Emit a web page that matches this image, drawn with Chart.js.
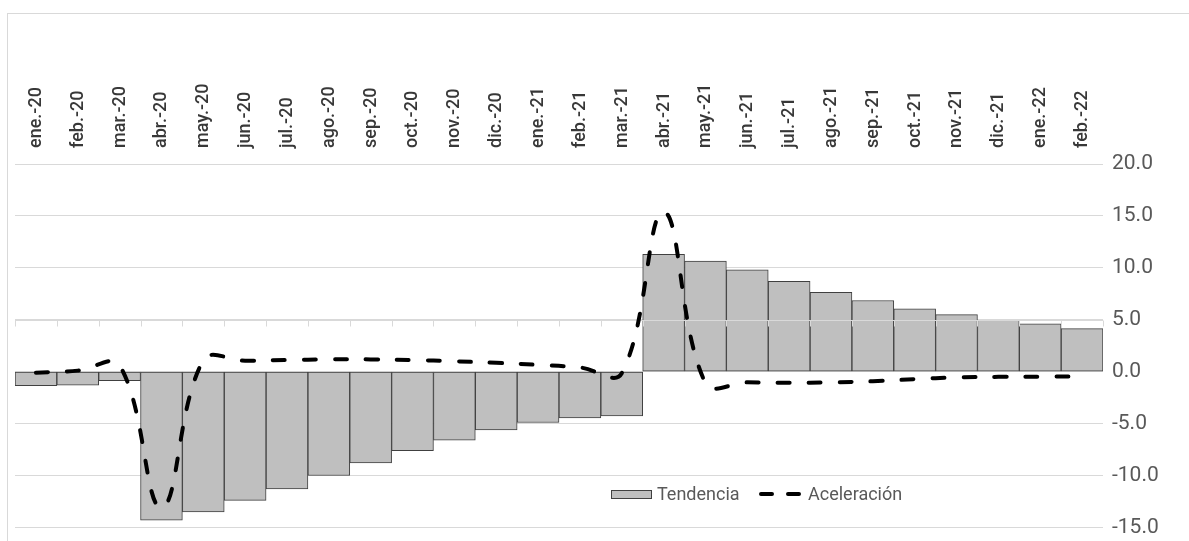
<!DOCTYPE html>
<html>
<head>
<meta charset="utf-8">
<script src="https://cdn.jsdelivr.net/npm/chart.js@4"></script>
<style>
  html, body { margin: 0; padding: 0; background: #fff; overflow: hidden; }
  #marco { position: absolute; left: 7px; top: 13px; width: 2000px; height: 1000px; border: 1px solid #d9d9d9; }
  #grafico { position: absolute; left: 0; top: 0; }
</style>
</head>
<body>
<div id="marco"></div>
<canvas id="grafico" width="1189" height="549"></canvas>
<script>
// Datos
var meses = ['ene.-20', 'feb.-20', 'mar.-20', 'abr.-20', 'may.-20', 'jun.-20', 'jul.-20', 'ago.-20',
    'sep.-20', 'oct.-20', 'nov.-20', 'dic.-20', 'ene.-21', 'feb.-21', 'mar.-21', 'abr.-21',
    'may.-21', 'jun.-21', 'jul.-21', 'ago.-21', 'sep.-21', 'oct.-21', 'nov.-21', 'dic.-21',
    'ene.-22', 'feb.-22'];

var tendencia = [-1.35, -1.3, -0.87, -14.3, -13.5, -12.4, -11.3, -10.0, -8.8, -7.6, -6.6, -5.6,
    -4.9, -4.45, -4.26, 11.3, 10.65, 9.8, 8.7, 7.65, 6.85, 6.05, 5.5, 4.95, 4.6, 4.15];

var aceleracion = [-0.1, 0.1, 0.6, -13.1, 1.1, 1.05, 1.12, 1.18, 1.18, 1.12, 1.0, 0.85,
    0.65, 0.4, -0.15, 15.4, -1.1, -1.03, -1.08, -1.03, -0.92, -0.72, -0.55, -0.5, -0.48, -0.45];

var ejeMin = -15;
var ejeMax = 20;
var ejePaso = 5;
var cruceEje = 5.0; // el eje de categorias cruza en 5.0

// Linea del eje horizontal y leyenda dentro del area
var extras = {
    id: 'extras',
    afterDatasetDraw: function (chart, args) {
        if (args.index !== 0) return;
        var ctx = chart.ctx;
        var yPos = Math.round(chart.scales.y.getPixelForValue(cruceEje)) + 0.5;
        var area = chart.chartArea;
        ctx.save();
        ctx.strokeStyle = '#d9d9d9';
        ctx.lineWidth = 1;
        ctx.beginPath();
        ctx.moveTo(area.left, yPos);
        ctx.lineTo(area.right, yPos);
        var paso = (area.right - area.left) / meses.length;
        for (var i = 0; i <= meses.length; i++) {
            var px = Math.round(area.left + i * paso) + 0.5;
            ctx.moveTo(px, yPos);
            ctx.lineTo(px, yPos + 6);
        }
        ctx.stroke();
        ctx.restore();
    },
    afterDraw: function (chart) {
        var ctx = chart.ctx;
        var area = chart.chartArea;
        var yLeg = Math.round(chart.scales.y.getPixelForValue(-11.8));
        var x0 = area.left + 596;
        ctx.save();
        // Tendencia
        ctx.fillStyle = '#bfbfbf';
        ctx.fillRect(x0, yLeg - 4, 40, 8);
        ctx.strokeStyle = '#404040';
        ctx.lineWidth = 1;
        ctx.strokeRect(x0 + 0.5, yLeg - 4 + 0.5, 40, 8);
        ctx.font = '18px Roboto';
        ctx.fillStyle = '#595959';
        ctx.textBaseline = 'middle';
        ctx.fillText('Tendencia', x0 + 46, yLeg + 1);
        // Aceleracion
        var x1 = x0 + 150;
        ctx.strokeStyle = '#000';
        ctx.lineWidth = 4;
        ctx.lineCap = 'round';
        ctx.beginPath();
        ctx.moveTo(x1, yLeg); ctx.lineTo(x1 + 11, yLeg);
        ctx.moveTo(x1 + 27, yLeg); ctx.lineTo(x1 + 38, yLeg);
        ctx.stroke();
        ctx.fillText('Aceleración', x1 + 47, yLeg + 1);
        ctx.restore();
    }
};

var grafico = new Chart(document.getElementById('grafico'), {
    type: 'bar',
    data: {
        labels: meses,
        datasets: [{
            type: 'bar',
            label: 'Tendencia',
            data: tendencia,
            backgroundColor: '#bfbfbf',
            borderColor: '#404040',
            borderWidth: 1,
            borderSkipped: false,
            categoryPercentage: 1,
            barPercentage: 1,
            order: 1
        }, {
            type: 'line',
            label: 'Aceleración',
            data: aceleracion,
            borderColor: '#000000',
            borderWidth: 4,
            borderDash: [12, 19],
            borderCapStyle: 'round',
            pointRadius: 0,
            tension: 0.4,
            fill: false,
            order: 0
        }]
    },
    options: {
        responsive: false,
        animation: false,
        layout: { padding: { left: 15, right: 0, top: 0, bottom: 7 } },
        plugins: {
            legend: { display: false },
            tooltip: { enabled: false }
        },
        scales: {
            x: {
                position: 'top',
                grid: { display: false },
                border: { display: false },
                ticks: {
                    autoSkip: false,
                    minRotation: 90,
                    maxRotation: 90,
                    padding: 8,
                    labelOffset: 22,
                    color: '#383838',
                    font: { family: 'Roboto', size: 18, weight: '500' }
                },
                afterFit: function (s) { s.height = 164; }
            },
            y: {
                position: 'right',
                min: ejeMin,
                max: ejeMax,
                grid: { color: '#d9d9d9', drawTicks: false },
                border: { display: false },
                ticks: {
                    stepSize: ejePaso,
                    padding: 9,
                    color: '#595959',
                    font: { family: 'Roboto', size: 21 },
                    callback: function (v) { return v.toFixed(1); }
                },
                afterFit: function (s) { s.width = 86; }
            }
        }
    },
    plugins: [extras]
});
</script>
</body>
</html>
